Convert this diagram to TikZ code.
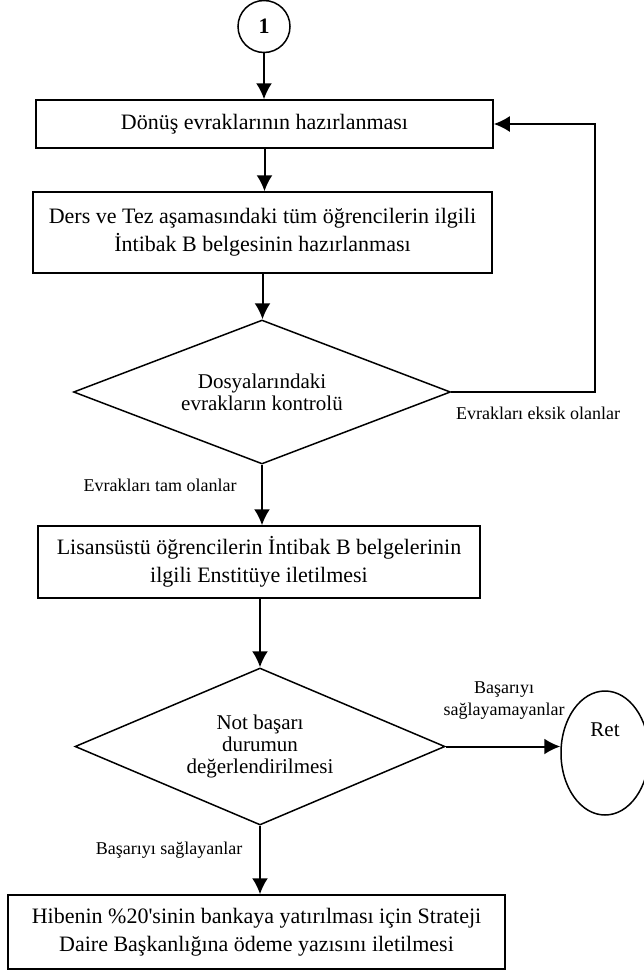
\documentclass[tikz,border=0pt]{standalone}
\usepackage{fontspec}
\setmainfont{Liberation Serif}[Ligatures=TeXOff]
\usetikzlibrary{shapes.geometric,arrows.meta}

\begin{document}
\begin{tikzpicture}[x=1pt,y=1pt,
  box/.style={draw,line width=1.5pt,align=center,font=\fontsize{22}{28}\selectfont},
  karar/.style={draw,diamond,line width=1.5pt,inner sep=0pt,align=center,font=\fontsize{21}{22}\selectfont},
  etiket/.style={align=center,font=\fontsize{18}{22}\selectfont},
  ok/.style={line width=2pt,-{Latex[length=16pt,width=16pt]}}]
\useasboundingbox (0,0) rectangle (643,-972);

%start
\node[draw,circle,line width=1.5pt,minimum size=52pt,inner sep=0pt,font=\fontsize{22}{22}\selectfont\bfseries] (c1) at (264,-26.5) {1};

%steps
\node[box,minimum width=457pt,minimum height=48pt] (b1) at (264.5,-124) {Dönüş evraklarının hazırlanması};
\node[box,minimum width=459pt,minimum height=81pt] (b2) at (262.5,-232.5) {Ders ve Tez aşamasındaki tüm öğrencilerin ilgili\\İntibak B belgesinin hazırlanması};
\node[karar,aspect=2.6,minimum width=377pt,minimum height=144pt] (d1) at (262,-392) {Dosyalarındaki\\evrakların kontrolü};
\node[box,minimum width=442pt,minimum height=72pt] (b3) at (259,-562) {Lisansüstü öğrencilerin İntibak B belgelerinin\\ilgili Enstitüye iletilmesi};
\node[karar,aspect=2.35,minimum width=370pt,minimum height=157pt] (d2) at (260,-746.5) {Not başarı\\durumun\\değerlendirilmesi};
\node[box,minimum width=497pt,minimum height=74pt] (b4) at (256.5,-932) {Hibenin \%20'sinin bankaya yatırılması için Strateji\\Daire Başkanlığına ödeme yazısını iletilmesi};

%reject
\node[draw,ellipse,line width=1.5pt,minimum width=88pt,minimum height=124pt] (ret) at (605,-753) {};
\node[font=\fontsize{21}{21}\selectfont] (rettxt) at (605,-730) {Ret};

%labels
\node[etiket] (l1) at (538,-413) {Evrakları eksik olanlar};
\node[etiket] (l2) at (160,-485) {Evrakları tam olanlar};
\node[etiket] (l3) at (504,-701) {Başarıyı\\sağlayamayanlar};
\node[etiket] (l4) at (169,-850) {Başarıyı sağlayanlar};

%arrows
\coordinate (kose) at (595,-392);
\draw[ok] (c1.south) -- (c1.south |- b1.north);
\draw[ok] (b1.south) -- (b1.south |- b2.north);
\draw[ok] (b2.south) -- (b2.south |- d1.north);
\draw[ok] (d1.east) -- (kose) |- (b1.east);
\draw[ok] (d1.south) -- (d1.south |- b3.north);
\draw[ok] (b3.south -| d2.north) -- (d2.north);
\draw[ok] (d2.east) -- (d2.east -| ret.west);
\draw[ok] (d2.south) -- (d2.south |- b4.north);
\end{tikzpicture}
\end{document}
